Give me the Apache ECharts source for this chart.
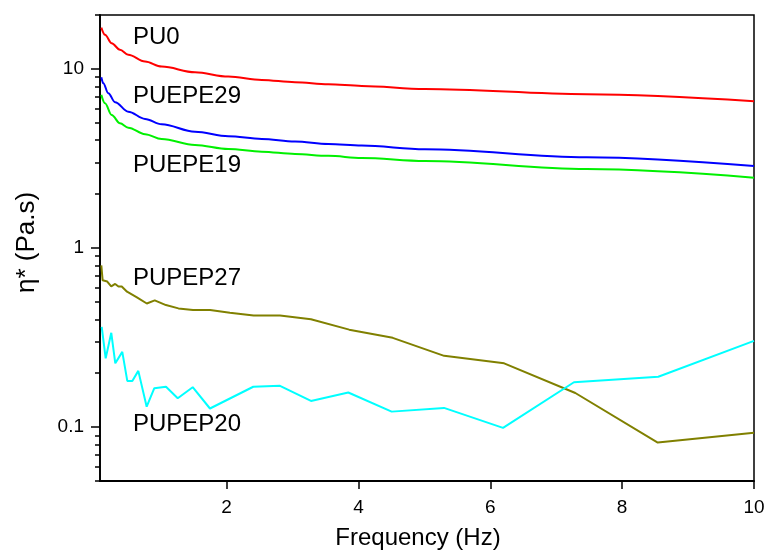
<!DOCTYPE html>
<html>
<head>
<meta charset="utf-8">
<script src="https://cdn.jsdelivr.net/npm/echarts@6/dist/echarts.min.js"></script>
<style>
  html, body { margin: 0; padding: 0; background: #fff; }
  #chart { width: 766px; height: 550px; }
</style>
</head>
<body>
<div id="chart"></div>
<script>
// Complex viscosity vs frequency for the PU samples
const freqPU0 = [0.1, 0.156, 0.257, 0.383, 0.509, 0.763, 1.016, 1.521, 2.026, 2.533, 3.038, 3.543, 4.049, 5.009, 7.462, 10];
const etaPU0 = [17.0, 15.5, 13.9, 12.8, 12.0, 11.0, 10.3, 9.58, 9.06, 8.68, 8.43, 8.21, 8.04, 7.73, 7.22, 6.60];

const freqPUEPE29 = [0.1, 0.13, 0.206, 0.308, 0.509, 0.763, 1.016, 1.521, 2.026, 2.533, 3.038, 3.543, 4.049, 5.009, 7.462, 10];
const etaPUEPE29 = [8.99, 8.32, 7.32, 6.52, 5.77, 5.26, 4.91, 4.46, 4.21, 4.06, 3.93, 3.81, 3.73, 3.56, 3.21, 2.87];

const freqPUEPE19 = [0.1, 0.156, 0.257, 0.383, 0.509, 0.763, 1.016, 1.521, 2.026, 2.533, 3.038, 3.543, 4.049, 5.009, 7.462, 10];
const etaPUEPE19 = [7.16, 6.43, 5.53, 4.97, 4.70, 4.32, 4.06, 3.76, 3.57, 3.45, 3.35, 3.27, 3.18, 3.06, 2.76, 2.47];

const freqPUPEP27 = [0.10, 0.12, 0.19, 0.25, 0.31, 0.36, 0.41, 0.49, 0.64, 0.79, 0.91, 1.08, 1.27, 1.49, 1.75, 2.05, 2.41, 2.81, 3.28, 3.86, 4.52, 5.30, 6.21, 7.29, 8.54, 10.0];
const etaPUPEP27 = [0.80, 0.66, 0.65, 0.61, 0.63, 0.61, 0.61, 0.57, 0.53, 0.49, 0.51, 0.48, 0.46, 0.45, 0.45, 0.435, 0.42, 0.42, 0.40, 0.35, 0.315, 0.25, 0.227, 0.155, 0.082, 0.093];

const freqPUPEP20 = [0.106, 0.166, 0.251, 0.312, 0.418, 0.494, 0.570, 0.661, 0.788, 0.904, 1.081, 1.259, 1.486, 1.748, 2.405, 2.810, 3.280, 3.846, 4.504, 5.298, 6.193, 7.269, 8.548, 10.0];
const etaPUPEP20 = [0.363, 0.242, 0.336, 0.227, 0.263, 0.181, 0.181, 0.206, 0.130, 0.165, 0.168, 0.145, 0.167, 0.127, 0.168, 0.170, 0.140, 0.156, 0.122, 0.128, 0.099, 0.178, 0.191, 0.303];

// Axis ticks
const xTicks = [2, 4, 6, 8, 10];
const yMajorTicks = [0.1, 1, 10];
const yMinorTicks = [0.05, 0.06, 0.07, 0.08, 0.09, 0.2, 0.3, 0.4, 0.5, 0.6, 0.7, 0.8, 0.9, 2, 3, 4, 5, 6, 7, 8, 9, 20];

const FONT = "Arial, 'Liberation Sans', sans-serif";

function pairs(xs, ys) { return xs.map((x, i) => [x, ys[i]]); }

const chart = echarts.init(document.getElementById('chart'), null, { renderer: 'canvas' });

function lineSeries(name, xs, ys, color, smooth) {
  return {
    name: name,
    type: 'line',
    data: pairs(xs, ys),
    showSymbol: false,
    smooth: smooth ? 0.35 : false,
    smoothMonotone: 'x',
    lineStyle: { color: color, width: 2 },
    itemStyle: { color: color },
    animation: false,
    z: 3
  };
}

const yBase = {
  type: 'log',
  logBase: 10,
  min: 0.05,
  max: 20,
  position: 'left',
  splitLine: { show: false }
};

chart.setOption({
  backgroundColor: '#ffffff',
  animation: false,
  grid: {
    left: 100, right: 12, top: 15, bottom: 69,
    outerBoundsMode: 'none',
    containLabel: false,
    show: true, borderColor: '#000', borderWidth: 1.5, backgroundColor: 'transparent'
  },
  xAxis: {
    type: 'value',
    min: 0.08,
    max: 10,
    name: 'Frequency (Hz)',
    nameLocation: 'middle',
    nameGap: 45,
    nameTextStyle: { fontFamily: FONT, fontSize: 24, color: '#000', padding: [0, 18, 0, 0] },
    axisLine: { show: true, lineStyle: { color: '#000', width: 1.8 } },
    axisTick: { show: true, customValues: xTicks, length: 8, lineStyle: { color: '#000', width: 1.5 } },
    axisLabel: { customValues: xTicks, margin: 17, fontFamily: FONT, fontSize: 19, color: '#000' },
    splitLine: { show: false }
  },
  yAxis: [
    Object.assign({}, yBase, {
      name: 'η* (Pa.s)',
      nameLocation: 'middle',
      nameGap: 60,
      nameRotate: 90,
      nameTextStyle: { fontFamily: FONT, fontSize: 26, color: '#000', padding: [0, 0, 0, 11] },
      axisLine: { show: true, lineStyle: { color: '#000', width: 1.8 } },
      axisTick: { show: true, customValues: yMajorTicks, length: 9, lineStyle: { color: '#000', width: 1.5 } },
      axisLabel: {
        customValues: yMajorTicks, margin: 16, fontFamily: FONT, fontSize: 19, color: '#000',
        formatter: v => String(v)
      }
    }),
    Object.assign({}, yBase, {
      axisLine: { show: false },
      axisTick: { show: true, customValues: yMinorTicks, length: 5, lineStyle: { color: '#000', width: 1.5 } },
      axisLabel: { show: false }
    })
  ],
  graphic: [
    { type: 'text', left: 133, top: 25, style: { text: 'PU0', font: '24px ' + FONT, fill: '#000' } },
    { type: 'text', left: 133, top: 84, style: { text: 'PUEPE29', font: '24px ' + FONT, fill: '#000' } },
    { type: 'text', left: 133, top: 153, style: { text: 'PUEPE19', font: '24px ' + FONT, fill: '#000' } },
    { type: 'text', left: 133, top: 266, style: { text: 'PUPEP27', font: '24px ' + FONT, fill: '#000' } },
    { type: 'text', left: 133, top: 412, style: { text: 'PUPEP20', font: '24px ' + FONT, fill: '#000' } }
  ],
  series: [
    lineSeries('PU0', freqPU0, etaPU0, '#ff0000', true),
    lineSeries('PUEPE29', freqPUEPE29, etaPUEPE29, '#0000ff', true),
    lineSeries('PUEPE19', freqPUEPE19, etaPUEPE19, '#00f000', true),
    lineSeries('PUPEP27', freqPUPEP27, etaPUPEP27, '#808000', false),
    lineSeries('PUPEP20', freqPUPEP20, etaPUPEP20, '#00ffff', false)
  ]
});
</script>
</body>
</html>
